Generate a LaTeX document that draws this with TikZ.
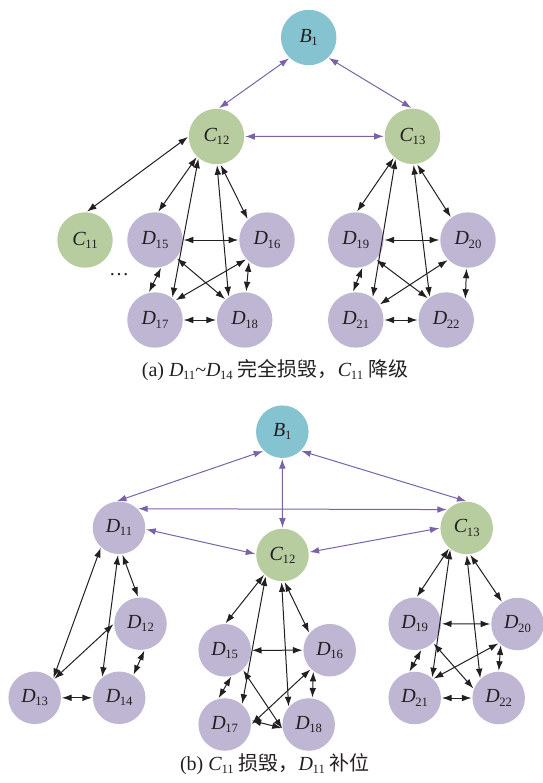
\documentclass[tikz,border=0pt]{standalone}
\usepackage{fontspec}
\setmainfont{Liberation Serif}
\newfontfamily\cjk{Noto Sans CJK SC}
\usetikzlibrary{arrows.meta}
\definecolor{bcol}{HTML}{84C3CF}
\definecolor{gcol}{HTML}{B7CC9F}
\definecolor{pcol}{HTML}{BFB6D3}
\definecolor{acol}{HTML}{7A62A8}
\definecolor{tcol}{HTML}{231F20}
\newcommand{\nl}[2]{\textit{#1}\kern-0.02em\raisebox{-0.35ex}{\fontsize{9.5}{12}\selectfont #2}}
\begin{document}
\begin{tikzpicture}[x=0.75pt,y=-0.75pt,
  nda/.style={circle,inner sep=0pt,minimum size=41.6pt,text=tcol,font=\fontsize{15}{18}\selectfont},
  ndb/.style={nda,minimum size=39.4pt},
  bn/.style={fill=bcol}, gn/.style={fill=gcol}, pn/.style={fill=pcol},
  blk/.style={draw=tcol,line width=0.75pt,{Latex[length=7.2pt,width=5pt]}-{Latex[length=7.2pt,width=5pt]},shorten <=0.5pt,shorten >=0.5pt},
  pur/.style={blk,draw=acol},
  captxt/.style={text=tcol,font=\fontsize{15}{18}\selectfont,inner sep=0pt}]
\useasboundingbox (0,0) rectangle (543,783);
% ---------- (a) ----------
\node[nda,bn] (aB1) at (308.7,37.5) {\nl{B}{1}};
\node[nda,gn] (aC12) at (216.5,136.5) {\nl{C}{12}};
\node[nda,gn] (aC13) at (412.5,136.3) {\nl{C}{13}};
\node[nda,gn] (aC11) at (85,240) {\nl{C}{11}};
\node[nda,pn] (aD15) at (155,240) {\nl{D}{15}};
\node[nda,pn] (aD16) at (267,240) {\nl{D}{16}};
\node[nda,pn] (aD17) at (155,320) {\nl{D}{17}};
\node[nda,pn] (aD18) at (244.7,320) {\nl{D}{18}};
\node[nda,pn] (aD19) at (355.8,240) {\nl{D}{19}};
\node[nda,pn] (aD20) at (468,240) {\nl{D}{20}};
\node[nda,pn] (aD21) at (355.8,320) {\nl{D}{21}};
\node[nda,pn] (aD22) at (446.2,320) {\nl{D}{22}};
\node[captxt] (adots) at (119,275) {…};
\draw[pur] (aB1.227) -- (aC12.86);
\draw[pur] (aB1.314) -- (aC13.91);
\draw[pur] (aC12.0) -- (aC13.180);
\draw[blk] (aC12.180) -- (aC11.87);
\draw[blk] (aC12.226) -- (aD15.84);
\draw[blk] (aC12.230) -- (aD17.52);
\draw[blk] (aC12.271) -- (aD18.125);
\draw[blk] (aC12.278) -- (aD16.133);
\draw[blk] (aD15.0) -- (aD16.180);
\draw[blk] (aD15.283) -- (aD17.103);
\draw[blk] (aD15.320) -- (aD18.133);
\draw[blk] (aD16.223) -- (aD17.44);
\draw[blk] (aD16.230) -- (aD18.87);
\draw[blk] (aD17.0) -- (aD18.180);
\draw[blk] (aC13.229) -- (aD19.88);
\draw[blk] (aC13.233) -- (aD21.53);
\draw[blk] (aC13.272) -- (aD22.126);
\draw[blk] (aC13.279) -- (aD20.127);
\draw[blk] (aD19.0) -- (aD20.180);
\draw[blk] (aD19.284) -- (aD21.96);
\draw[blk] (aD19.316) -- (aD22.130);
\draw[blk] (aD20.225) -- (aD21.33);
\draw[blk] (aD20.267) -- (aD22.47);
\draw[blk] (aD21.0) -- (aD22.180);
\node[captxt] (capa) at (275,370) {(a) \nl{D}{11}\textasciitilde\nl{D}{14} {\cjk 完全损毁，}\nl{C}{11} {\cjk 降级}};
% ---------- (b) ----------
\node[ndb,bn] (bB1) at (282.3,431.7) {\nl{B}{1}};
\node[ndb,pn] (bD11) at (119,527.8) {\nl{D}{11}};
\node[ndb,gn] (bC13) at (466.7,528) {\nl{C}{13}};
\node[ndb,gn] (bC12) at (282.5,555) {\nl{C}{12}};
\node[ndb,pn] (bD12) at (140.5,623.7) {\nl{D}{12}};
\node[ndb,pn] (bD13) at (34.7,697.8) {\nl{D}{13}};
\node[ndb,pn] (bD14) at (119.2,697.8) {\nl{D}{14}};
\node[ndb,pn] (bD15) at (224.7,650.3) {\nl{D}{15}};
\node[ndb,pn] (bD16) at (329.7,650.2) {\nl{D}{16}};
\node[ndb,pn] (bD17) at (224.7,724.5) {\nl{D}{17}};
\node[ndb,pn] (bD18) at (308.7,724.5) {\nl{D}{18}};
\node[ndb,pn] (bD19) at (414.7,623.8) {\nl{D}{19}};
\node[ndb,pn] (bD20) at (517.5,624) {\nl{D}{20}};
\node[ndb,pn] (bD21) at (414.7,698) {\nl{D}{21}};
\node[ndb,pn] (bD22) at (498.7,698) {\nl{D}{22}};
\draw[pur] (bB1.226) -- (bD11.96);
\draw[pur] (bB1.314) -- (bC13.89);
\draw[pur] (bB1.270) -- (bC12.90);
\draw[pur] (bD11.46) -- (bC13.136);
\draw[pur] (bD11.357) -- (bC12.178);
\draw[pur] (bC12.6) -- (bC13.180);
\draw[blk] (bD11.227) -- (bD13.46);
\draw[blk] (bD11.268) -- (bD14.130);
\draw[blk] (bD11.277) -- (bD12.95);
\draw[blk] (bD12.180) -- (bD13.44);
\draw[blk] (bD12.279) -- (bD14.58);
\draw[blk] (bD13.0) -- (bD14.180);
\draw[blk] (bC12.227) -- (bD15.89);
\draw[blk] (bC12.231) -- (bD17.49);
\draw[blk] (bC12.268) -- (bD18.139);
\draw[blk] (bC12.274) -- (bD16.140);
\draw[blk] (bD15.0) -- (bD16.180);
\draw[blk] (bD15.285) -- (bD17.104);
\draw[blk] (bD15.313) -- (bD18.190);
\draw[blk] (bD16.225) -- (bD17.0);
\draw[blk] (bD16.232) -- (bD18.82);
\draw[blk] (bD17.9) -- (bD18.188);
\draw[blk] (bC13.229) -- (bD19.86);
\draw[blk] (bC13.232) -- (bD21.49);
\draw[blk] (bC13.270) -- (bD22.134);
\draw[blk] (bC13.277) -- (bD20.125);
\draw[blk] (bD19.0) -- (bD20.180);
\draw[blk] (bD19.285) -- (bD21.102);
\draw[blk] (bD19.314) -- (bD22.160);
\draw[blk] (bD20.226) -- (bD21.46);
\draw[blk] (bD20.231) -- (bD22.90);
\draw[blk] (bD21.0) -- (bD22.180);
\node[captxt] (capb) at (275,764) {(b) \nl{C}{11} {\cjk 损毁，}\nl{D}{11} {\cjk 补位}};
\end{tikzpicture}
\end{document}
